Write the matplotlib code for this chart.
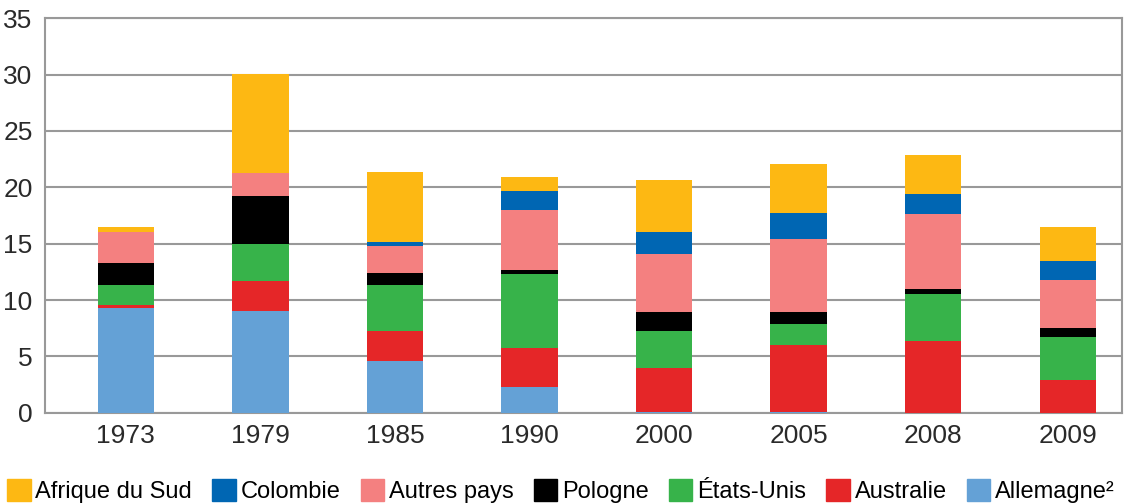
import matplotlib
matplotlib.use("Agg")
import matplotlib.pyplot as plt
import numpy as np
from matplotlib.patches import Patch

plt.rcParams["font.family"] = ["Liberation Sans", "DejaVu Sans"]

years = ["1973", "1979", "1985", "1990", "2000", "2005", "2008", "2009"]

# stacked from bottom to top
allemagne = [9.3, 9.05, 4.55, 2.25, 0.05, 0.05, 0.0, 0.0]
australie = [0.3, 2.6, 2.7, 3.5, 3.9, 5.95, 6.4, 2.9]
etats_unis = [1.7, 3.35, 4.1, 6.55, 3.3, 1.9, 4.1, 3.8]
pologne = [2.0, 4.25, 1.05, 0.4, 1.7, 1.05, 0.45, 0.8]
autres = [2.7, 2.05, 2.35, 5.25, 5.15, 6.45, 6.65, 4.25]
colombie = [0.0, 0.0, 0.4, 1.7, 1.95, 2.3, 1.8, 1.7]
afrique_sud = [0.5, 8.75, 6.2, 1.25, 4.6, 4.35, 3.45, 3.05]

series = [
    ("Allemagne²", allemagne, "#64a1d6"),
    ("Australie", australie, "#e52628"),
    ("États-Unis", etats_unis, "#37b34a"),
    ("Pologne", pologne, "#000000"),
    ("Autres pays", autres, "#f48080"),
    ("Colombie", colombie, "#0066b3"),
    ("Afrique du Sud", afrique_sud, "#fdb813"),
]

fig = plt.figure(figsize=(11.32, 5.04), dpi=100)
ax = fig.add_axes([0.0398, 0.181, 0.951, 0.783])

x = np.arange(len(years))
bottom = np.zeros(len(years))
for label, vals, color in series:
    vals = np.array(vals)
    ax.bar(x, vals, width=0.42, bottom=bottom, color=color, zorder=3)
    bottom += vals

ax.set_xlim(-0.6, 7.4)
ax.set_ylim(0, 35)
ax.set_yticks(range(0, 36, 5))
ax.set_xticks(x)
ax.set_xticklabels(years)
ax.yaxis.grid(True, color="#999999", linewidth=1.5, zorder=0)
ax.tick_params(length=0, labelsize=19, colors="#2a2a2a")
ax.tick_params(axis="y", pad=9)
ax.tick_params(axis="x", pad=8)
for s in ax.spines.values():
    s.set_color("#999999")
    s.set_linewidth(1.5)

handles = [Patch(color=c, label=l) for l, _, c in reversed(series)]
fig.legend(handles=handles, loc="lower left", bbox_to_anchor=(0.0, -0.012),
           ncol=7, frameon=False, fontsize=17, handlelength=1.0,
           handleheight=1.05, handletextpad=0.2, columnspacing=0.85,
           borderaxespad=0.1, borderpad=0.2)

fig.savefig("out.png", dpi=100)
